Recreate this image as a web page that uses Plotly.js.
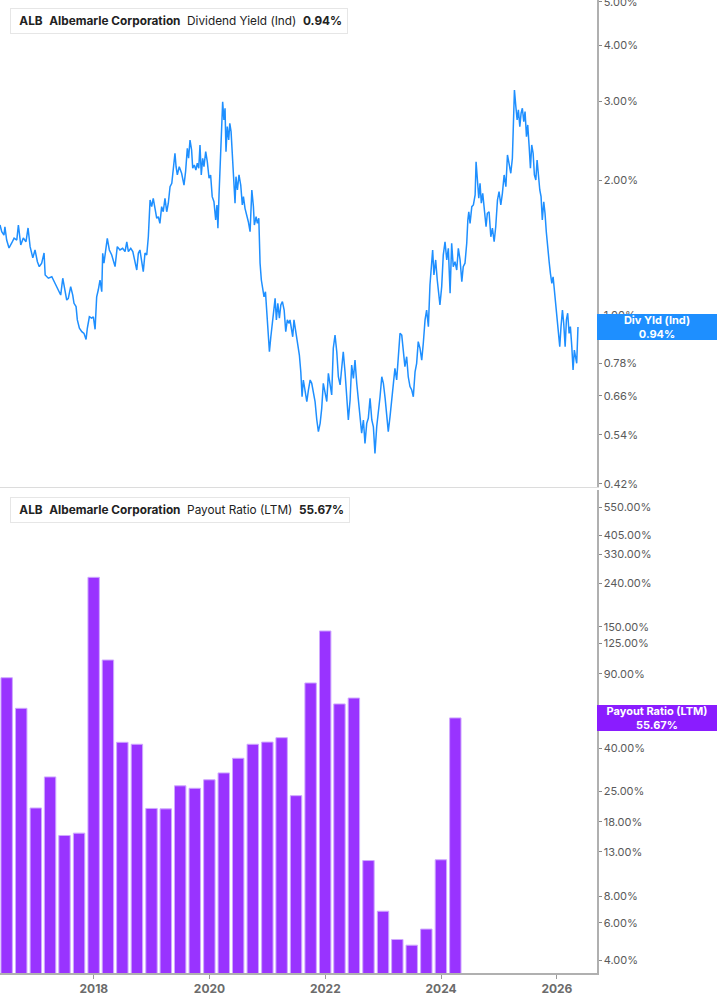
<!DOCTYPE html>
<html>
<head>
<meta charset="utf-8">
<script src="https://cdn.plot.ly/plotly-3.0.1.min.js"></script>
<style>
  html, body { margin: 0; padding: 0; background: #ffffff; }
  #chart { width: 717px; height: 1005px; }
</style>
</head>
<body>
<div id="chart"></div>
<script>
// ---- Dividend Yield (Ind), % — dates as decimal years ----
const yieldYears = [
2016.381,2016.410,2016.450,2016.467,2016.497,2016.537,2016.583,2016.623,2016.670,2016.697,
2016.739,2016.784,2016.830,2016.865,2016.899,2016.946,2016.986,2017.025,2017.060,2017.101,
2017.141,2017.159,2017.216,2017.274,2017.331,2017.388,2017.430,2017.464,2017.504,2017.533,
2017.561,2017.602,2017.637,2017.660,2017.694,2017.717,2017.751,2017.793,2017.832,2017.867,
2017.889,2017.924,2017.965,2017.993,2018.022,2018.052,2018.079,2018.109,2018.138,2018.155,
2018.178,2018.212,2018.235,2018.269,2018.311,2018.368,2018.408,2018.454,2018.501,2018.541,
2018.570,2018.598,2018.639,2018.674,2018.713,2018.743,2018.770,
2018.800,2018.857,2018.886,2018.916,2018.943,2018.973,2019.002,2019.030,2019.059,2019.088,
2019.116,2019.145,2019.175,2019.202,2019.232,2019.261,2019.289,2019.318,2019.348,2019.375,
2019.405,2019.422,2019.444,2019.479,2019.520,2019.560,2019.589,2019.617,2019.641,2019.664,
2019.693,2019.710,2019.738,2019.767,2019.790,2019.814,2019.836,2019.859,2019.883,2019.906,
2019.935,2019.962,2019.992,2020.021,2020.049,2020.078,2020.108,2020.130,2020.147,2020.165,
2020.187,2020.204,2020.229,2020.251,2020.268,2020.286,2020.308,2020.332,2020.350,2020.372,
2020.389,2020.412,2020.441,2020.458,2020.481,2020.510,2020.540,2020.567,2020.585,2020.614,
2020.643,2020.671,2020.700,2020.730,2020.757,2020.775,2020.804,2020.826,2020.851,2020.873,
2020.896,2020.920,2020.942,2020.965,2020.989,2021.011,2021.034,2021.058,2021.080,2021.103,
2021.132,2021.155,2021.179,2021.207,2021.231,2021.258,2021.288,2021.317,2021.345,2021.374,
2021.391,2021.438,2021.460,2021.495,2021.518,2021.552,2021.576,2021.599,2021.621,2021.651,
2021.680,2021.708,2021.737,2021.766,2021.794,2021.823,2021.853,2021.880,2021.910,2021.939,
2021.967,2021.996,2022.025,2022.053,2022.082,2022.112,2022.139,2022.169,2022.198,2022.226,
2022.255,2022.285,2022.312,2022.342,2022.371,2022.399,2022.428,2022.457,2022.485,2022.514,
2022.544,2022.571,2022.601,2022.630,2022.658,2022.687,2022.717,2022.744,2022.774,2022.803,
2022.831,2022.860,2022.889,2022.917,2022.946,2022.976,2023.003,2023.033,2023.062,2023.090,
2023.119,2023.148,2023.176,2023.205,2023.235,2023.262,2023.292,2023.321,2023.349,2023.378,
2023.408,2023.435,2023.465,2023.494,2023.522,2023.551,2023.580,2023.608,2023.637,
2023.667,2023.694,2023.724,2023.753,2023.781,2023.810,2023.840,2023.857,2023.879,2023.909,
2023.936,2023.966,2023.983,2024.012,2024.040,2024.069,2024.099,2024.126,2024.156,2024.185,
2024.213,2024.242,2024.271,2024.299,2024.328,2024.358,2024.385,2024.415,2024.444,2024.462,
2024.479,2024.501,2024.531,2024.558,2024.588,2024.605,2024.627,2024.652,2024.674,2024.696,
2024.721,2024.748,2024.778,2024.800,2024.829,2024.859,2024.886,2024.916,2024.945,2024.973,
2025.002,2025.032,2025.059,2025.089,2025.118,2025.146,2025.175,2025.204,2025.232,2025.249,
2025.267,2025.291,2025.313,2025.336,2025.360,2025.382,2025.405,2025.429,2025.451,2025.474,
2025.498,2025.521,2025.543,2025.567,2025.590,2025.612,2025.636,2025.659,2025.681,2025.705,
2025.728,2025.750,2025.775,2025.797,2025.819,2025.844,2025.866,2025.889,2025.913,2025.935,
2025.958,2025.982,2026.004,2026.027,2026.051,2026.073,2026.096,2026.120,2026.143,2026.165,
2026.189,2026.212,2026.234,2026.258,2026.281,2026.303,2026.327,2026.345,2026.367
];
const yieldPct = [
1.588,1.534,1.508,1.574,1.470,1.411,1.448,1.485,1.470,1.588,
1.433,1.485,1.457,1.564,1.421,1.341,1.397,1.315,1.282,1.305,
1.375,1.228,1.208,1.217,1.177,1.137,1.108,1.208,1.137,1.080,
1.089,1.157,1.108,1.062,1.044,0.975,0.934,0.918,0.910,0.882,
0.934,0.991,0.984,0.991,0.929,1.098,1.137,1.197,1.127,1.373,
1.305,1.397,1.483,1.397,1.361,1.282,1.421,1.397,1.409,1.385,
1.457,1.385,1.409,1.385,1.305,1.260,1.373,
1.397,1.249,1.375,1.361,1.495,1.806,1.745,1.822,1.730,1.644,
1.657,1.602,1.745,1.700,1.822,1.700,1.776,1.933,1.967,2.126,
2.296,2.143,2.054,2.143,2.072,1.950,2.089,2.356,2.238,2.458,
2.335,2.126,2.162,2.107,2.181,2.126,2.396,2.054,2.238,2.143,
2.315,2.199,2.019,2.054,1.837,1.790,1.629,1.760,1.562,1.853,
2.256,2.588,2.993,2.725,2.894,2.315,2.633,2.458,2.679,2.566,
2.375,2.072,1.776,2.036,1.901,2.054,1.950,1.760,1.837,1.730,
1.672,1.615,1.534,1.901,1.745,1.588,1.657,1.602,1.644,1.305,
1.197,1.127,1.098,1.127,1.026,0.926,0.828,0.894,0.942,0.984,
1.089,0.975,1.062,0.984,1.053,1.071,1.026,0.918,0.975,0.958,
0.975,0.894,0.975,0.910,0.865,0.814,0.747,0.657,0.716,0.669,
0.641,0.680,0.716,0.704,0.669,0.641,0.583,0.549,0.573,0.619,
0.704,0.669,0.641,0.741,0.692,0.663,0.843,0.902,0.828,0.728,
0.698,0.760,0.828,0.747,0.657,0.583,0.646,0.773,0.722,0.793,
0.704,0.652,0.583,0.545,0.583,0.517,0.573,0.588,0.652,0.583,
0.563,0.491,0.563,0.603,0.657,0.728,0.704,0.652,0.603,0.549,
0.593,0.641,0.692,0.760,0.716,0.807,0.910,0.902,0.835,0.767,
0.807,0.728,0.692,0.680,0.657,0.747,0.780,0.872,0.843,
0.793,0.865,0.975,1.026,0.942,1.167,1.315,1.397,1.228,1.327,
1.197,1.098,1.053,1.157,1.361,1.457,1.327,1.409,1.118,1.446,
1.282,1.315,1.260,1.409,1.327,1.187,1.282,1.305,1.446,1.629,
1.700,1.602,1.745,1.760,1.853,2.199,2.001,1.822,1.967,1.776,
1.869,1.715,1.574,1.687,1.700,1.495,1.562,1.457,1.574,1.806,
1.885,1.760,1.869,2.054,1.933,2.276,2.162,2.072,2.238,2.844,
3.178,2.918,2.725,2.869,2.633,2.821,2.894,2.702,2.844,2.500,
2.656,2.375,2.126,2.396,2.296,2.054,2.001,2.218,2.019,1.901,
1.837,1.629,1.790,1.687,1.534,1.373,1.315,1.239,1.177,1.217,
1.137,1.080,1.009,0.918,0.850,0.942,1.026,0.958,0.850,0.975,
1.009,0.910,0.942,0.850,0.754,0.835,0.807,0.780,0.940
];

// ---- Payout Ratio (LTM), % — quarterly ----
const payoutDates = [
'2016-06-30','2016-09-30','2016-12-31','2017-03-31','2017-06-30','2017-09-30','2017-12-31','2018-03-31',
'2018-06-30','2018-09-30','2018-12-31','2019-03-31','2019-06-30','2019-09-30','2019-12-31','2020-03-31',
'2020-06-30','2020-09-30','2020-12-31','2021-03-31','2021-06-30','2021-09-30','2021-12-31','2022-03-31',
'2022-06-30','2022-09-30','2022-12-31','2023-03-31','2023-06-30','2023-09-30','2023-12-31','2024-03-31'
];
const payoutPct = [
86.2, 61.8, 20.9, 29.3, 15.5, 15.9, 256.9, 104.5,
42.7, 41.8, 20.8, 20.7, 26.6, 25.9, 28.4, 30.6,
35.9, 41.8, 42.8, 44.9, 23.9, 81.4, 143.3, 64.8,
69.1, 11.8, 6.8, 5.0, 4.7, 5.6, 11.9, 55.67
];

// ---- tick labels ----
const yieldTicks = [0.42, 0.54, 0.66, 0.78, 0.90, 1.00, 2.00, 3.00, 4.00, 5.00];
const payoutTicks = [4, 6, 8, 13, 18, 25, 40, 55, 90, 125, 150, 240, 330, 405, 550];
const xTickDates = ['2018-01-01', '2020-01-01', '2022-01-01', '2024-01-01', '2026-01-01'];
const xTickLabels = ['2018', '2020', '2022', '2024', '2026'];

const lastYield = 0.94;
const lastPayout = 55.67;

function decYearToISO(t) {
  const y = Math.floor(t);
  const a = Date.UTC(y, 0, 1), b = Date.UTC(y + 1, 0, 1);
  return new Date(a + (t - y) * (b - a)).toISOString().slice(0, 10);
}
const fmt = v => v.toFixed(2) + '%';

const FONT = 'Inter, "Noto Sans", sans-serif';
const BLUE = '#1e8fff';
const PURPLE = '#9933ff';
const PURPLE_DARK = '#8a1cff';

const traces = [
  {
    type: 'scatter', mode: 'lines',
    x: yieldYears.map(decYearToISO), y: yieldPct,
    xaxis: 'x2', yaxis: 'y2',
    line: { color: BLUE, width: 1.5 },
    hoverinfo: 'skip'
  },
  {
    type: 'bar',
    x: payoutDates, y: payoutPct,
    xaxis: 'x', yaxis: 'y',
    marker: { color: PURPLE, line: { color: '#cfa8ff', width: 1 } },
    hoverinfo: 'skip'
  }
];

const yTickCommon = {
  type: 'log', side: 'right', showgrid: false, zeroline: false,
  showline: true, linecolor: '#b0b0b0', linewidth: 1.5,
  ticks: 'outside', ticklen: 3, tickcolor: '#888', tickwidth: 1,
  tickfont: { family: FONT, size: 11, color: '#5a5a5a' },
  ticklabeloverflow: 'allow',
  fixedrange: true
};

const layout = {
  width: 717, height: 1005,
  margin: { l: 0, r: 120, t: 0, b: 32 },
  paper_bgcolor: '#ffffff', plot_bgcolor: '#ffffff',
  showlegend: false, bargap: 0.2,
  font: { family: FONT },
  xaxis: {
    type: 'date', domain: [0, 1], anchor: 'y',
    range: ['2016-05-19', '2026-09-11'],
    tickmode: 'array', tickvals: xTickDates, ticktext: xTickLabels,
    showgrid: false, zeroline: false,
    showline: true, linecolor: '#b0b0b0', linewidth: 1.5,
    ticks: 'outside', ticklen: 4, tickcolor: '#999',
    tickfont: { family: FONT, size: 12, color: '#6b6b6b', weight: 'bold' }
  },
  xaxis2: {
    type: 'date', matches: 'x', anchor: 'y2',
    showticklabels: false, showgrid: false, zeroline: false,
    showline: true, linecolor: '#dcdcdc', linewidth: 1, ticks: ''
  },
  yaxis: Object.assign({}, yTickCommon, {
    domain: [0, 0.4964], anchor: 'x',
    range: [0.5407, 2.8222],
    tickmode: 'array', tickvals: payoutTicks, ticktext: payoutTicks.map(fmt)
  }),
  yaxis2: Object.assign({}, yTickCommon, {
    domain: [0.4995, 1], anchor: 'x2',
    range: [-0.3839, 0.7031],
    tickmode: 'array', tickvals: yieldTicks, ticktext: yieldTicks.map(fmt)
  }),
  annotations: [
    {
      xref: 'paper', yref: 'paper', x: 10 / 597, y: 1, yshift: -8,
      xanchor: 'left', yanchor: 'top', showarrow: false,
      text: '\u00a0<b>ALB</b>\u00a0\u00a0<b>Albemarle Corporation</b>\u00a0\u00a0Dividend Yield (Ind)\u00a0\u00a0<b>' + fmt(lastYield) + '</b>',
      font: { family: FONT, size: 11.8, color: '#222' },
      bgcolor: '#ffffff', bordercolor: '#e6e6e6', borderwidth: 1, borderpad: 5
    },
    {
      xref: 'paper', yref: 'paper', x: 10 / 597, y: 1 - 497 / 973,
      xanchor: 'left', yanchor: 'top', showarrow: false,
      text: '\u00a0<b>ALB</b>\u00a0\u00a0<b>Albemarle Corporation</b>\u00a0\u00a0Payout Ratio (LTM)\u00a0\u00a0<b>' + fmt(lastPayout) + '</b>',
      font: { family: FONT, size: 11.8, color: '#222' },
      bgcolor: '#ffffff', bordercolor: '#e6e6e6', borderwidth: 1, borderpad: 5
    },
    {
      xref: 'paper', yref: 'y2', x: 1, y: Math.log10(lastYield),
      xanchor: 'left', yanchor: 'middle', showarrow: false,
      text: '<b>Div Yld (Ind)<br>' + fmt(lastYield) + '</b>',
      font: { family: FONT, size: 11, color: '#ffffff' },
      bgcolor: BLUE, borderpad: 1, borderwidth: 0, width: 118, height: 24, align: 'center'
    },
    {
      xref: 'paper', yref: 'y', x: 1, y: Math.log10(lastPayout),
      xanchor: 'left', yanchor: 'middle', showarrow: false,
      text: '<b>Payout Ratio (LTM)<br>' + fmt(lastPayout) + '</b>',
      font: { family: FONT, size: 11, color: '#ffffff' },
      bgcolor: PURPLE_DARK, borderpad: 1, borderwidth: 0, width: 118, height: 24, align: 'center'
    }
  ],
  shapes: [
    {
      type: 'rect', xref: 'paper', yref: 'paper',
      xsizemode: 'pixel', ysizemode: 'pixel',
      xanchor: 10 / 597, yanchor: 1, x0: 0, x1: 3, y0: -8, y1: -33,
      fillcolor: BLUE, line: { width: 0 }
    },
    {
      type: 'rect', xref: 'paper', yref: 'paper',
      xsizemode: 'pixel', ysizemode: 'pixel',
      xanchor: 10 / 597, yanchor: 1 - 497 / 973, x0: 0, x1: 3, y0: 0, y1: -25,
      fillcolor: PURPLE_DARK, line: { width: 0 }
    }
  ]
};

Plotly.newPlot('chart', traces, layout, { staticPlot: true, displayModeBar: false });
</script>
</body>
</html>
